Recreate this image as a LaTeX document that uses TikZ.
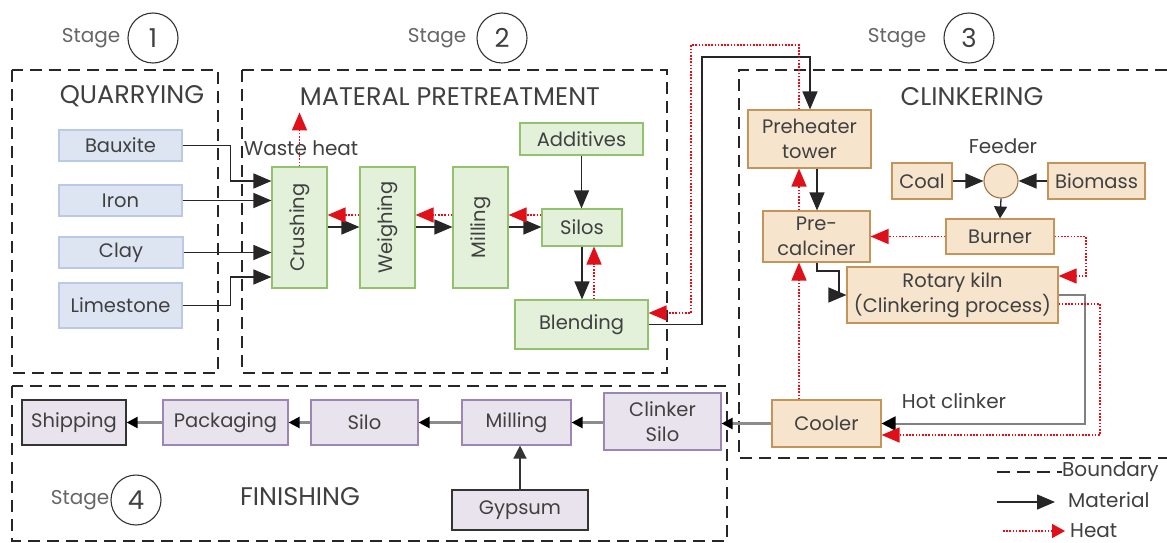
\documentclass[tikz,border=0pt]{standalone}
\usepackage{fontspec}
\setmainfont{Poppins}
\usetikzlibrary{arrows.meta,calc}
\definecolor{txt}{HTML}{404040}
\definecolor{bfill}{HTML}{DDE5F3}
\definecolor{bdraw}{HTML}{B9C9E6}
\definecolor{gfill}{HTML}{E3F0DA}
\definecolor{gdraw}{HTML}{93C26E}
\definecolor{ofill}{HTML}{F7E4CC}
\definecolor{odraw}{HTML}{C4955A}
\definecolor{pfill}{HTML}{E9E3EE}
\definecolor{pdraw}{HTML}{9D86B3}
\definecolor{heatred}{HTML}{E0101A}
\newcommand\bxfont{\fontsize{19.5}{25}\selectfont}
\newcommand\ttlfont{\fontsize{25.5}{28}\selectfont}
\newcommand\stgfont{\fontsize{20}{22}\selectfont}
\tikzset{
  x=1pt, y=-1pt,
  box/.style={draw, line width=1.1pt, inner sep=1pt, align=center, font=\bxfont, text=txt},
  bluebox/.style={box, fill=bfill, draw=bdraw},
  greenbox/.style={box, fill=gfill, draw=gdraw},
  orangebox/.style={box, fill=ofill, draw=odraw},
  purplebox/.style={box, fill=pfill, draw=pdraw},
  darkbox/.style={box, fill=pfill, draw=black!80, line width=1.3pt},
  mat/.style={line width=1.3pt, black!85, -{Triangle[length=18pt,width=15pt]}},
  gmat/.style={line width=2.2pt, black!45, -{Triangle[length=11pt,width=11pt,fill=black,color=black]}},
  heat/.style={line width=1.5pt, heatred, dash pattern=on 1.6pt off 1.6pt, -{Triangle[length=18pt,width=15pt]}},
  bound/.style={line width=1.6pt, dash pattern=on 12pt off 7pt, black!85},
  title/.style={font=\ttlfont, text=txt},
  stagetxt/.style={font=\stgfont, text=txt!80},
  stagecirc/.style={circle, draw=black!80, line width=1.1pt, minimum size=50pt, inner sep=0pt, font=\fontsize{26}{28}\selectfont, text=txt},
  lbl/.style={font=\stgfont, text=txt},
}
\begin{document}
\begin{tikzpicture}
\useasboundingbox (0,0) rectangle (1167,543);
\fill[white] (0,0) rectangle (1167,543);

% boundaries
\draw[bound] (12,70) rectangle (218,373);
\draw[bound] (242,70) rectangle (667,373);
\draw[bound] (1167,70) -- (739,70) -- (739,458) -- (1167,458);
\draw[bound] (12,386) rectangle (727,541);

% stage headers
\node[stagetxt] (s1t) at (91,38) {Stage};
\node[stagecirc] (s1c) at (153,38) {1};
\node[stagetxt] (s2t) at (437,38) {Stage};
\node[stagecirc] (s2c) at (502,38) {2};
\node[stagetxt] (s3t) at (897,38) {Stage};
\node[stagecirc] (s3c) at (969,38) {3};
\node[stagetxt] (s4t) at (80,500) {Stage};
\node[stagecirc] (s4c) at (136,500) {4};

% titles
\node[title] (tq) at (132,96) {QUARRYING};
\node[title] (tm) at (450,97) {MATERAL PRETREATMENT};
\node[title] (tc) at (972,97) {CLINKERING};
\node[title] (tf) at (300,497) {FINISHING};

% stage 1
\node[bluebox, minimum width=123pt, minimum height=31pt] (bauxite) at (120.5,145.5) {Bauxite};
\node[bluebox, minimum width=123pt, minimum height=31pt] (iron) at (120.5,200.5) {Iron};
\node[bluebox, minimum width=124pt, minimum height=31pt] (clay) at (121,252.5) {Clay};
\node[bluebox, minimum width=123pt, minimum height=45pt] (limestone) at (120.5,305.5) {Limestone};

% stage 2
\node[greenbox, minimum width=121pt, minimum height=55pt, rotate=90] (crushing) at (299.5,227.5) {Crushing};
\node[greenbox, minimum width=121pt, minimum height=55pt, rotate=90] (weighing) at (387.5,227.5) {Weighing};
\node[greenbox, minimum width=121pt, minimum height=55pt, rotate=90] (milling) at (480.5,227.5) {Milling};
\node[greenbox, minimum width=80pt, minimum height=37pt] (silos) at (582,227.5) {Silos};
\node[greenbox, minimum width=123pt, minimum height=32pt] (additives) at (581.5,139) {Additives};
\node[greenbox, minimum width=133pt, minimum height=49pt] (blending) at (581.5,324.5) {Blending};

% stage 3
\node[orangebox, minimum width=123pt, minimum height=58pt] (preheater) at (809.5,139) {Preheater\\tower};
\node[orangebox, minimum width=107pt, minimum height=51pt] (precalciner) at (816.5,236.5) {Pre-\\calciner};
\node[orangebox, minimum width=60pt, minimum height=36pt] (coal) at (922,181) {Coal};
\node[orangebox, circle, minimum size=34pt, inner sep=0pt, draw=odraw!80!black] (feeder) at (1001,181) {};
\node[lbl] (feederlbl) at (1003,146) {Feeder};
\node[orangebox, minimum width=97pt, minimum height=36pt] (biomass) at (1096.5,181) {Biomass};
\node[orangebox, minimum width=108pt, minimum height=35pt] (burner) at (1000,236.5) {Burner};
\node[orangebox, minimum width=211pt, minimum height=56pt] (kiln) at (952.5,295) {Rotary kiln\\(Clinkering process)};
\node[orangebox, minimum width=109pt, minimum height=47pt] (cooler) at (826.5,423.5) {Cooler};
\node[lbl] (hotlbl) at (954,401) {Hot clinker};

% stage 4
\node[darkbox, minimum width=104pt, minimum height=45pt] (shipping) at (74,422.5) {Shipping};
\node[purplebox, minimum width=125pt, minimum height=45pt] (packaging) at (225.5,422.5) {Packaging};
\node[purplebox, minimum width=107pt, minimum height=45pt] (silo) at (364.5,422.5) {Silo};
\node[purplebox, minimum width=109pt, minimum height=45pt] (milling2) at (516.5,422.5) {Milling};
\node[purplebox, minimum width=117pt, minimum height=57pt] (clinkersilo) at (662.5,421.5) {Clinker\\Silo};
\node[darkbox, minimum width=136pt, minimum height=40pt] (gypsum) at (520,510) {Gypsum};

% stage 1 -> crushing
\draw[mat] (bauxite.east) -- ++(48,0) |- (crushing.north |- 0,181);
\draw[mat] (iron.east) -- (crushing.north |- iron.east);
\draw[mat] (clay.east) -- (crushing.north |- clay.east);
\draw[mat] (limestone.east) -- ++(48,0) |- (crushing.north |- 0,277);

% stage 2 flows
\draw[mat] (crushing.south |- 0,227) -- (weighing.north |- 0,227);
\draw[mat] (weighing.south |- 0,227) -- (milling.north |- 0,227);
\draw[mat] (milling.south |- 0,227) -- (silos.west |- 0,227);
\draw[heat] (weighing.north |- 0,215) -- (crushing.south |- 0,215);
\draw[heat] (milling.north |- 0,215) -- (weighing.south |- 0,215);
\draw[heat] (silos.west |- 0,215) -- (milling.south |- 0,215);
\draw[mat] (additives.south) -- (additives.south |- silos.north);
\draw[mat] (silos.south) -- (silos.south |- blending.north);
\draw[heat] (blending.north -| 594,0) -- (silos.south -| 594,0);
\draw[heat] (crushing.east) -- ++(0,-54) coordinate (wh);
\node[lbl, anchor=center] (wastelbl) at (301,148) {Waste heat};

% stage 2 -> stage 3
\draw[mat] (blending.east) -| (702,57) -| (preheater.north -| 810,0);
\draw[heat] (preheater.north -| 799,0) |- (691,45) |- (blending.east |- 0,313);

% stage 3 flows
\draw[mat] (preheater.south -| 817,0) -- (precalciner.north -| 817,0);
\draw[heat] (precalciner.north -| 799,0) -- (preheater.south -| 799,0);
\draw[heat] (cooler.north -| 799,0) -- (precalciner.south -| 799,0);
\draw[mat] (coal.east) -- (feeder.west);
\draw[mat] (biomass.west) -- (feeder.east);
\draw[line width=1.3pt, black!85, -{Triangle[length=12pt,width=13pt]}] (feeder.south) -- (burner.north);
\draw[heat] (burner.west) -- (precalciner.east |- burner.west);
\draw[heat] (burner.east) -| (1086,276) -- (kiln.east |- 0,276);
\draw[mat] (precalciner.south -| 817,0) |- (839,271) |- (kiln.west);
\draw[line width=2pt, black!50, -{Triangle[length=14pt,width=14pt,color=black]}] (kiln.east) -| (1085,423.5) -- (cooler.east);
\draw[heat] (kiln.east |- 0,304) -| (1100,435) -- (cooler.east |- 0,435);
\draw[gmat] (cooler.west) -- (clinkersilo.east |- cooler.west);

% stage 4 flows
\draw[gmat] (clinkersilo.west |- milling2.east) -- (milling2.east);
\draw[gmat] (milling2.west) -- (silo.east);
\draw[gmat] (silo.west) -- (packaging.east);
\draw[gmat] (packaging.west) -- (shipping.east);
\draw[line width=1.3pt, black!80, -{Triangle[length=13pt,width=13pt]}] (gypsum.north) -- (gypsum.north |- milling2.south);

% legend
\coordinate (lb1) at (997,472);
\coordinate (lb2) at (1062,472);
\draw[line width=1.6pt, dash pattern=on 13pt off 7pt, black!85] (lb1) -- (lb2);
\node[lbl, anchor=west, inner sep=0pt] (lbt) at (lb2) {Boundary};
\coordinate (lm1) at (997,502);
\coordinate (lm2) at (1055,502);
\draw[mat] (lm1) -- (lm2);
\node[lbl, anchor=west, inner sep=0pt] (lmt) at (1068,500) {Material};
\coordinate (lh1) at (1003,531);
\coordinate (lh2) at (1065,531);
\draw[heat, -{Triangle[length=13pt,width=14pt]}] (lh1) -- (lh2);
\node[lbl, anchor=west, inner sep=0pt] (lht) at (1070,531) {Heat};
\end{tikzpicture}
\end{document}
